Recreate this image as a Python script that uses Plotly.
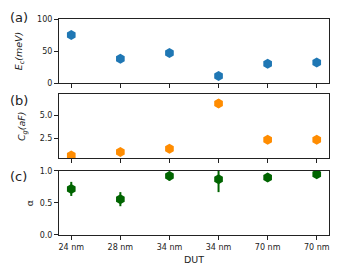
import plotly.graph_objects as go
from plotly.subplots import make_subplots

categories = ["24 nm", "28 nm", "34 nm", "34 nm", "70 nm", "70 nm"]
x_pos = [0, 1, 2, 3, 4, 5]
ec_values = [75, 38, 47, 11, 30, 32]
cg_values = [0.6, 1.0, 1.35, 6.35, 2.35, 2.35]
cg_err = [0.1, 0.1, 0.1, 0.45, 0.1, 0.1]
alpha_values = [0.72, 0.56, 0.92, 0.87, 0.90, 0.95]
alpha_err = [0.11, 0.11, 0.07, 0.2, 0.06, 0.04]

FONT = "DejaVu Sans"
TXT = "#222"
fig = make_subplots(rows=3, cols=1, shared_xaxes=False, vertical_spacing=0.05)

fig.add_trace(go.Scatter(x=x_pos, y=ec_values, mode="markers",
                         marker=dict(symbol="hexagon", size=10, color="#1f77b4"),
                         showlegend=False), row=1, col=1)
fig.add_trace(go.Scatter(x=x_pos, y=cg_values, mode="markers",
                         error_y=dict(type="data", array=cg_err, color="#ff8c00", thickness=2, width=0),
                         marker=dict(symbol="hexagon", size=10, color="#ff8c00"),
                         showlegend=False), row=2, col=1)
fig.add_trace(go.Scatter(x=x_pos, y=alpha_values, mode="markers",
                         error_y=dict(type="data", array=alpha_err, color="#006400", thickness=2, width=0),
                         marker=dict(symbol="hexagon", size=10, color="#006400"),
                         showlegend=False), row=3, col=1)

axis_common = dict(showline=True, linecolor=TXT, linewidth=1, mirror=True,
                   ticks="outside", ticklen=4, tickcolor=TXT, tickwidth=1,
                   showgrid=False, zeroline=False, automargin=False,
                   tickfont=dict(family=FONT, size=8, color=TXT))

domains = [[0.7037, 1.0], [0.355, 0.6514], [0.0, 0.2963]]
for i in range(1, 4):
    fig.update_xaxes(range=[-0.25, 5.25], tickvals=x_pos, ticktext=categories,
                     showticklabels=(i == 3), row=i, col=1, **axis_common)
    fig.update_yaxes(domain=domains[i - 1], row=i, col=1, **axis_common)

title_font = dict(family=FONT, size=9.5, color=TXT)
fig.update_yaxes(range=[0, 100], tickvals=[0, 50, 100], row=1, col=1,
                 title=dict(text="<i>E<sub>c</sub>(meV)</i>", font=title_font, standoff=12))
fig.update_yaxes(range=[0.3, 7.35], tickvals=[2.5, 5.0], ticktext=["2.5", "5.0"], row=2, col=1,
                 title=dict(text="<i>C<sub>g</sub>(aF)</i>", font=title_font, standoff=12))
fig.update_yaxes(range=[0, 1], tickvals=[0.0, 0.5, 1.0], ticktext=["0.0", "0.5", "1.0"], row=3, col=1,
                 title=dict(text="α", font=title_font, standoff=4))
fig.update_xaxes(row=3, col=1,
                 title=dict(text="DUT", font=title_font, standoff=5))

# page offset of 8px (body margin) is compensated in the figure size/margins
ML, MT, PW, PH = 51, 11, 270, 216
for label, ypx in [("(a)", 0), ("(b)", 83), ("(c)", 159)]:
    fig.add_annotation(text=label, xref="paper", yref="paper",
                       x=(0 - ML) / PW, y=1 - (ypx - MT) / PH,
                       xanchor="left", yanchor="top", showarrow=False,
                       font=dict(family=FONT, size=13, color=TXT))

fig.update_layout(width=341, height=269, margin=dict(l=ML, r=20, t=MT, b=42, autoexpand=False),
                  plot_bgcolor="white", paper_bgcolor="white",
                  font=dict(family=FONT, size=8, color=TXT))

fig.write_html("out.html")
